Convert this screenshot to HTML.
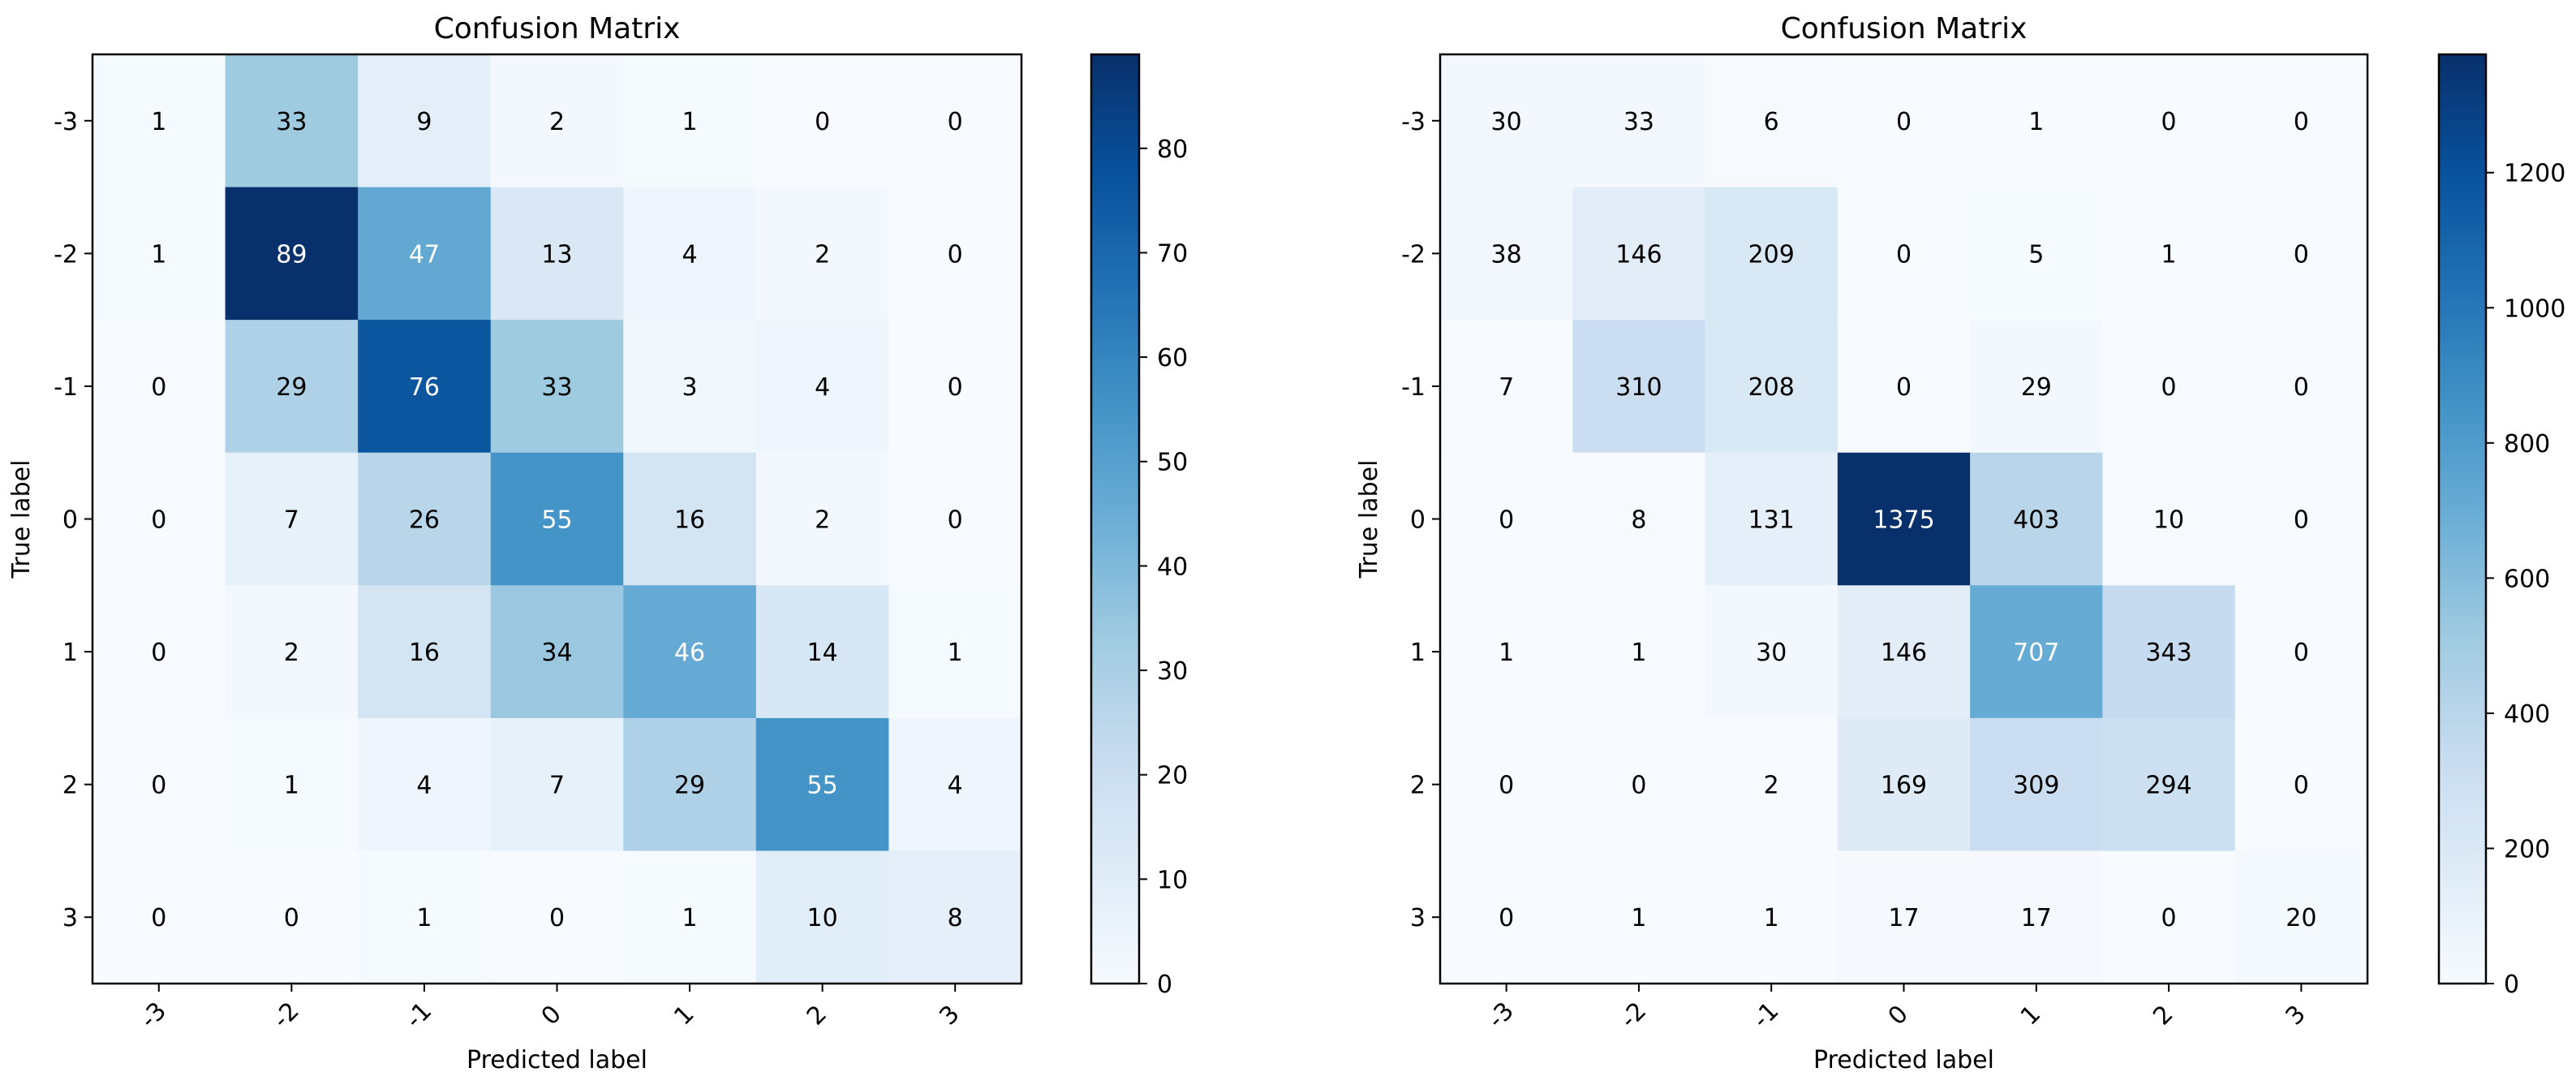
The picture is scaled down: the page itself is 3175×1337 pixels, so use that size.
<!DOCTYPE html>
<html><head><meta charset="utf-8"><style>
html,body{margin:0;padding:0;background:#fff;}
svg{display:block;font-family:"DejaVu Sans","Liberation Sans",sans-serif;}
</style></head><body>
<svg id="chart" width="3175" height="1337" viewBox="0 0 3175 1337" xmlns="http://www.w3.org/2000/svg">
<defs>
<linearGradient id="blues" x1="0" y1="1" x2="0" y2="0">
<stop offset="0" stop-color="#f7fbff"/><stop offset="0.125" stop-color="#deebf7"/><stop offset="0.25" stop-color="#c6dbef"/><stop offset="0.375" stop-color="#9ecae1"/><stop offset="0.5" stop-color="#6baed6"/><stop offset="0.625" stop-color="#4292c6"/><stop offset="0.75" stop-color="#2171b5"/><stop offset="0.875" stop-color="#08519c"/><stop offset="1" stop-color="#08306b"/>
</linearGradient>
</defs>
</svg>
<script>
const classLabels = ["-3","-2","-1","0","1","2","3"];
const matrixLeft = [
 [1,33,9,2,1,0,0],
 [1,89,47,13,4,2,0],
 [0,29,76,33,3,4,0],
 [0,7,26,55,16,2,0],
 [0,2,16,34,46,14,1],
 [0,1,4,7,29,55,4],
 [0,0,1,0,1,10,8]
];
const matrixRight = [
 [30,33,6,0,1,0,0],
 [38,146,209,0,5,1,0],
 [7,310,208,0,29,0,0],
 [0,8,131,1375,403,10,0],
 [1,1,30,146,707,343,0],
 [0,0,2,169,309,294,0],
 [0,1,1,17,17,0,20]
];
const cbTicksLeft = [0,10,20,30,40,50,60,70,80];
const cbTicksRight = [0,200,400,600,800,1000,1200];

const NS = "http://www.w3.org/2000/svg";
const svg = document.getElementById("chart");
const stops = [[0,[247,251,255]],[0.125,[222,235,247]],[0.25,[198,219,239]],[0.375,[158,202,225]],[0.5,[107,174,214]],[0.625,[66,146,198]],[0.75,[33,113,181]],[0.875,[8,81,156]],[1,[8,48,107]]];
function blues(t){
  t=Math.max(0,Math.min(1,t));
  for(let i=0;i<stops.length-1;i++){
    const [a,ca]=stops[i],[b,cb]=stops[i+1];
    if(t<=b){const f=(t-a)/(b-a);
      return "rgb("+ca.map((v,k)=>Math.round(v+(cb[k]-v)*f)).join(",")+")";}
  }
  return "rgb(8,48,107)";
}
function el(tag, attrs, parent, text){
  const e=document.createElementNS(NS,tag);
  for(const k in attrs) e.setAttribute(k,attrs[k]);
  if(text!==undefined) e.textContent=text;
  (parent||svg).appendChild(e);
  return e;
}
function panel(matrix, ax, cb, cbTicks, prefix){
  const n=classLabels.length;
  const vmax=Math.max(...matrix.flat());
  const top=67, bottom=1212;
  const cw=(ax.right-ax.left)/n, ch=(bottom-top)/n;
  const xPos=j=>ax.left+cw*(j+0.5);
  const yPos=i=>top+ch*(i+0.5);
  const g=el("g",{});
  
  
  for(let i=0;i<n;i++)for(let j=0;j<n;j++){
    const v=matrix[i][j];
    const r=el("rect",{x:ax.left+cw*j,y:top+ch*i,width:cw+0.6,height:ch+0.6,fill:blues(v/vmax)},g);
    
    
    const t=el("text",{x:xPos(j),y:yPos(i)+11,"text-anchor":"middle","font-size":30,fill:v>vmax/2?"#fff":"#000"},g,String(v));
    
    
  }
  const frame=el("rect",{x:ax.left,y:top,width:ax.right-ax.left,height:bottom-top,fill:"none",stroke:"#000","stroke-width":2.5},g);
  
  
  for(let k=0;k<n;k++){
    el("line",{x1:ax.left-10,x2:ax.left,y1:yPos(k),y2:yPos(k),stroke:"#000","stroke-width":2},g);
    const yl=el("text",{x:ax.left-18,y:yPos(k)+11,"text-anchor":"end","font-size":30,fill:"#000"},g,classLabels[k]);
    
    
    el("line",{x1:xPos(k),x2:xPos(k),y1:bottom,y2:bottom+10,stroke:"#000","stroke-width":2},g);
    const xl=el("text",{x:0,y:0,"text-anchor":"middle","font-size":30,fill:"#000",transform:`translate(${xPos(k)},${bottom+46}) rotate(-45)`},g,classLabels[k]);
    
    
  }
  const cx=(ax.left+ax.right)/2;
  const title=el("text",{x:cx,y:47,"text-anchor":"middle","font-size":36,fill:"#000"},g,"Confusion Matrix");
  
  
  const xt=el("text",{x:cx,y:1316,"text-anchor":"middle","font-size":30,fill:"#000"},g,"Predicted label");
  
  
  const yt=el("text",{x:0,y:0,"text-anchor":"middle","font-size":30,fill:"#000",transform:`translate(${ax.ylab},${(top+bottom)/2}) rotate(-90)`},g,"True label");
  
  
  // colorbar
  const cbg=el("g",{},g);
  
  
  el("rect",{x:cb.left,y:top,width:cb.right-cb.left,height:bottom-top,fill:"url(#blues)",stroke:"#000","stroke-width":2.5},cbg);
  const cy=v=>bottom-(bottom-top)*v/vmax;
  cbTicks.forEach(v=>{
    el("line",{x1:cb.right,x2:cb.right+10,y1:cy(v),y2:cy(v),stroke:"#000","stroke-width":2},cbg);
    const l=el("text",{x:cb.right+22,y:cy(v)+11,"font-size":30,fill:"#000"},cbg,String(v));
    
    
  });
}
panel(matrixLeft,{left:114,right:1259,ylab:36},{left:1345,right:1404},cbTicksLeft,"left");
panel(matrixRight,{left:1775,right:2918,ylab:1697},{left:3006,right:3064},cbTicksRight,"right");
</script>
</body></html>
